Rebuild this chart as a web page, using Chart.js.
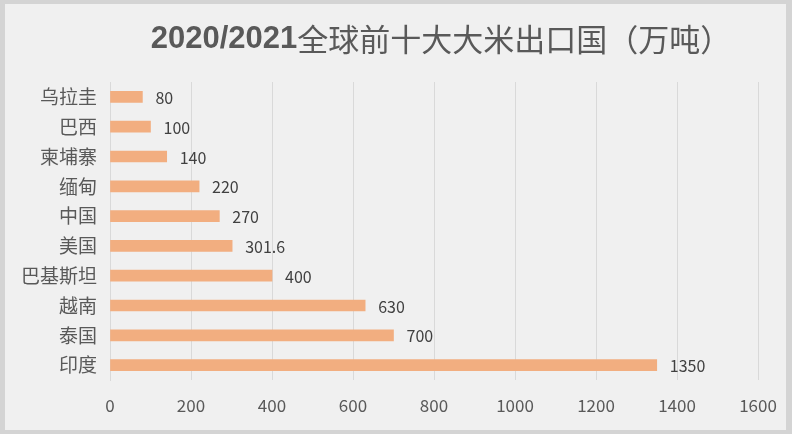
<!DOCTYPE html>
<html>
<head>
<meta charset="utf-8">
<script src="https://cdn.jsdelivr.net/npm/chart.js@4"></script>
<style>
  html, body { margin: 0; padding: 0; background: #d4d4d4; }
  #wrap { position: absolute; left: 5px; top: 4px; width: 781px; height: 426px; background: #f0f0f0; }
</style>
</head>
<body>
<div id="wrap"><canvas id="riceChart" width="781" height="426"></canvas></div>
<script>
// ----- Data -----
const countries = ['乌拉圭', '巴西', '柬埔寨', '缅甸', '中国', '美国', '巴基斯坦', '越南', '泰国', '印度'];
const exports   = [80, 100, 140, 220, 270, 301.6, 400, 630, 700, 1350];
const titleYear = '2020/2021';
const titleText = '全球前十大大米出口国（万吨）';
const xMax  = 1600;
const xStep = 200;

const CJK = '"Noto Sans CJK SC", "Noto Sans", sans-serif';

// ----- Title: bold year + regular Chinese text -----
const titlePlugin = {
  id: 'mixedTitle',
  afterDraw(chart) {
    const ctx = chart.ctx;
    ctx.save();
    ctx.textBaseline = 'middle';
    ctx.fillStyle = '#595959';
    const boldFont = 'bold 31px "Liberation Sans", Arial, sans-serif';
    const normFont = '31px ' + CJK;
    ctx.font = boldFont;
    const w1 = ctx.measureText(titleYear).width;
    ctx.font = normFont;
    const w2 = ctx.measureText(titleText).width;
    const x = 436 - (w1 + w2) / 2;
    const y = 35;
    ctx.textAlign = 'left';
    ctx.font = boldFont;
    ctx.fillText(titleYear, x, y);
    ctx.font = normFont;
    ctx.fillText(titleText, x + w1, y);
    ctx.restore();
  }
};

// ----- Value labels right of each bar -----
const valueLabels = {
  id: 'valueLabels',
  afterDatasetsDraw(chart) {
    const ctx = chart.ctx;
    const meta = chart.getDatasetMeta(0);
    ctx.save();
    ctx.font = '16px ' + CJK;
    ctx.fillStyle = '#404040';
    ctx.textAlign = 'left';
    ctx.textBaseline = 'middle';
    meta.data.forEach((bar, i) => {
      ctx.fillText(String(exports[i]), bar.x + 13, bar.y + 1);
    });
    ctx.restore();
  }
};

new Chart(document.getElementById('riceChart'), {
  type: 'bar',
  data: {
    labels: countries,
    datasets: [{
      data: exports,
      backgroundColor: '#F2AE80',
      borderWidth: 0,
      barThickness: 11
    }]
  },
  options: {
    indexAxis: 'y',
    responsive: false,
    animation: false,
    layout: { padding: { top: 78, right: 0, bottom: 0, left: 0 } },
    plugins: {
      legend: { display: false },
      tooltip: { enabled: false }
    },
    scales: {
      x: {
        min: 0,
        max: xMax,
        ticks: {
          stepSize: xStep,
          color: '#595959',
          font: { family: CJK, size: 17 },
          padding: 15,
          callback: v => String(v)
        },
        grid: { color: '#d9d9d9', lineWidth: 1, drawTicks: false },
        border: { display: false },
        afterFit: scale => {
          scale.height = 50;
          scale.paddingRight = 28;
          scale.paddingLeft = 0;
        }
      },
      y: {
        ticks: {
          color: '#595959',
          font: { family: CJK, size: 19 },
          padding: 13
        },
        grid: { display: false, drawTicks: false },
        border: { display: true, color: '#d9d9d9' },
        afterFit: scale => { scale.width = 105; }
      }
    }
  },
  plugins: [titlePlugin, valueLabels]
});
</script>
</body>
</html>
